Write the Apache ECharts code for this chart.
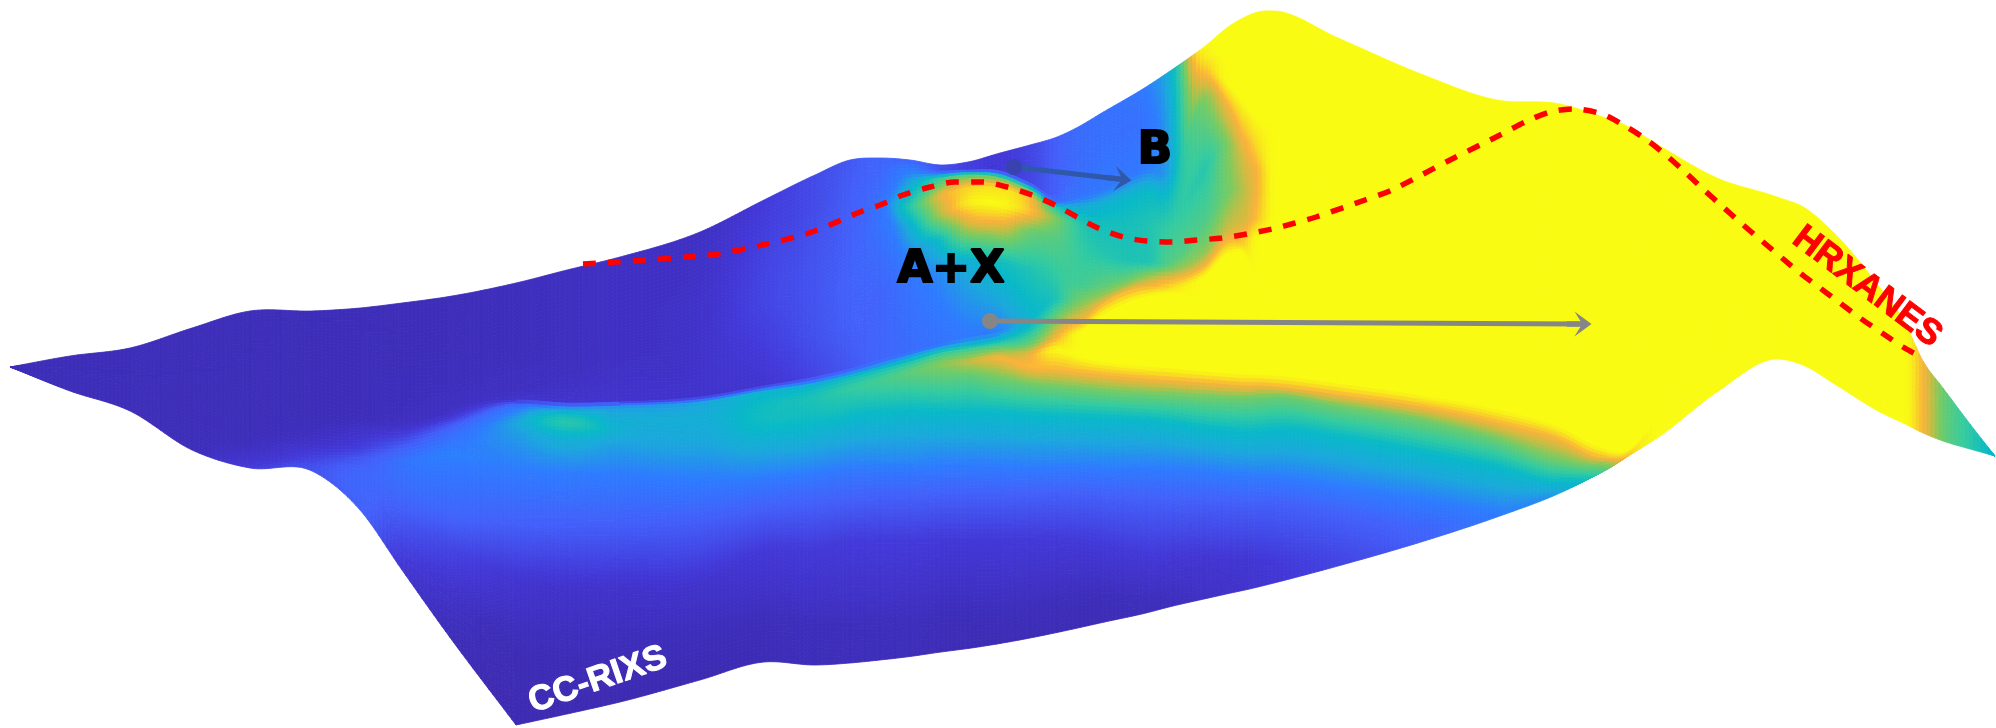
<!DOCTYPE html>
<html><head><meta charset="utf-8">
<style>html,body{margin:0;padding:0;background:#fff}#c{width:1996px;height:728px}</style>
<script src="https://cdn.jsdelivr.net/npm/echarts@6/dist/echarts.min.js"></script></head>
<body><div id="c"></div>
<script>
const colormapStops=[[0,'#3c2aaf'],[.12,'#4338d8'],[.25,'#4360fa'],[.37,'#2e7bff'],[.44,'#1ba8dc'],[.5,'#08b9c8'],[.6,'#34cba0'],[.72,'#78cb62'],[.8,'#c8bd42'],[.87,'#fbb23a'],[.93,'#f9d823'],[1,'#f9fb12']];
const columnX=[10,70,130,192,250,312,360,402,446,516,567,620,700,764,815,850,880,910,941,968,1000,1030,1057,1080,1100,1146,1173,1204,1231,1245,1258,1274,1338,1421,1497,1560,1600,1625,1660,1717,1777,1805,1833,1880,1905,1923,1943,1970,1995];
const surfaceY=[
[367,367,367,367,367,367,367,367,367,367,367,367,367,367,367,367,367,367,367],
[356,359,362,365,367,369,371,373,374,375,376,378,380,382,384,386,388,390,391],
[348,352,356,360,364,368,372,376,378,380,382,386,390,394,398,401,404,408,411],
[328,335,342,349,356,363,370,380,384,388,392,400,408,416,424,430,436,444,450],
[311,320,330,340,350,360,372,395,400,405,410,420,430,440,448,454,460,465,468],
[311,320,332,344,356,370,385,405,412,419,425,435,445,452,458,462,465,468,471],
[308,320,335,350,365,380,395,415,420,425,430,438,446,452,458,470,485,498,510],
[303,318,335,352,368,384,400,420,424,428,432,438,445,452,462,490,520,548,570],
[297,312,330,348,366,382,396,408,415,420,425,430,436,444,455,510,545,590,632],
[283,300,320,340,358,374,388,400,404,407,410,416,423,435,470,520,580,650,725],
[270,290,310,330,350,370,385,403,407,410,412,418,424,438,470,520,590,660,714],
[257,277,297,317,337,357,375,402,406,409,412,420,430,445,475,520,590,660,702],
[232,255,275,295,320,345,370,397,402,406,410,420,432,450,485,515,587,640,680],
[200,215,235,255,280,305,335,386,391,395,399,408,420,440,475,505,550,625,662],
[175,190,210,235,265,300,335,377,383,387,390,398,412,435,470,500,550,625,665],
[160,172,190,215,245,280,320,369,375,378,381,388,398,417,465,497,540,625,663],
[158,170,190,205,227,257,290,360,367,370,373,380,390,413,465,497,540,625,660],
[160,168,185,207,225,250,290,352,358,362,365,372,384,411,465,497,540,622,656.5],
[165,171,178,195,215,240,270,344,350,353,356,364,380,412,466,495,540,620,652],
[162,170,175,187,203,226,262,338,346,349,352,362,376,412,466,495,540,620,648.5],
[153,171,178,188,205,224,262,332,340,346,350,358,380,413,467,495,540,620,643.5],
[145,183,190,198,212,232,270,318,328,345,354,368,385,415,468,494,540,612,638],
[137,195,202,207,218,238,272,300,318,338,350,370,388,416,468,493,540,605,632.5],
[126,168,195,207,225,250,285,303,323,332,358,373,390,417,468,494,542,602,627.5],
[114,150,190,205,225,255,285,297,306,317,362,375,392,418,469,495,545,600,623],
[87,120,170,192,225,263,272,280,287,297,367,379,395,420,469,498,555,600,613],
[69,117,170,190,225,262,272,280,288,294,369,381,396,423,470,500,558,595,606],
[47,60,75,100,170,225,255,267,277,300,372,383,398,428,472,501,560,590,599],
[25,50,88,110,143,190,225,240,253,290,374,385,399,431,475,502,562,585,593],
[17,50,105,140,165,190,220,245,255,290,375,386,399,432,476,503,563,582,590],
[12,50,120,150,170,195,220,235,290,330,375,386,398,432,477,503,563,580,587],
[11,50,120,165,180,195,215,232,290,330,376,387,397,430,478,503,563,578,583],
[38,70,120,165,190,215,240,265,300,340,384,395,407,437,487,515,555,563,566],
[74,100,140,180,210,240,270,300,330,360,396,407,421,452,500,528,538,540,542],
[100,125,160,195,225,255,285,315,345,375,410,423,440,467,510,514,515,516,517],
[104,130,165,200,230,260,290,320,350,385,428,440,462,482,490,491,492,492,493],
[116,140,175,205,235,265,295,325,355,395,448,458,466,473,473,473,473,473,473],
[125,150,180,210,240,270,300,330,360,400,452,455,458,458,458,458,458,458,458],
[146,170,200,230,260,290,320,350,375,400,415,420,424,428,430,432,434,435,436],
[178,195,215,235,255,275,295,315,330,345,355,362,368,374,379,383,386,389,392],
[197,212,226,240,254,268,282,295,305,315,322,328,334,340,345,349,353,356,359],
[208,220,232,245,258,270,282,294,304,314,322,328,334,340,345,350,355,360,366],
[232,244,256,268,280,292,304,316,326,336,344,350,356,362,367,372,376,380,383],
[288,298,308,318,328,338,348,358,366,374,380,385,390,395,399,403,406,409,412],
[323,331,339,347,355,363,370,377,383,389,394,398,402,406,410,414,417,421,424],
[361,366,371,376,381,386,391,396,400,404,408,412,415,418,421,424,427,430,433],
[388,392,396,400,404,408,412,415,418,421,424,427,429,431,433,435,437,439,441],
[424,426,428,430,432,433,434,435,436,437,438,440,441,442,444,445,446,447,449],
[456,456,456,456,456,456,456,456,456,456,456,456,456,456,456,456,456,456,456]];
const surfaceC=[
[.03,.03,.03,.03,.03,.03,.03,.03,.03,.03,.03,.03,.03,.03,.03,.03,.03,.03,.03],
[.03,.03,.03,.03,.03,.03,.03,.03,.03,.03,.03,.03,.03,.03,.03,.03,.03,.03,.03],
[.03,.03,.03,.03,.03,.03,.03,.03,.03,.03,.03,.03,.03,.03,.03,.03,.03,.03,.03],
[.03,.03,.03,.03,.03,.03,.03,.03,.03,.03,.03,.03,.03,.03,.03,.03,.03,.03,.04],
[.03,.03,.03,.03,.03,.03,.03,.03,.03,.03,.03,.03,.03,.04,.05,.07,.09,.11,.13],
[.03,.03,.03,.03,.03,.03,.03,.03,.03,.03,.04,.05,.08,.12,.15,.17,.19,.2,.21],
[.03,.03,.03,.03,.03,.03,.03,.03,.04,.05,.07,.1,.13,.17,.22,.27,.28,.27,.25],
[.03,.03,.03,.03,.03,.04,.04,.05,.06,.08,.11,.16,.22,.28,.33,.3,.22,.15,.1],
[.03,.03,.03,.03,.04,.04,.05,.05,.07,.12,.2,.26,.3,.34,.38,.28,.17,.08,.03],
[.04,.04,.04,.04,.04,.05,.05,.08,.25,.33,.37,.41,.44,.42,.37,.26,.1,.02,.01],
[.05,.05,.05,.05,.05,.05,.06,.09,.38,.44,.47,.55,.57,.47,.38,.26,.08,.02,.01],
[.06,.06,.06,.06,.06,.06,.07,.09,.4,.42,.44,.46,.47,.43,.37,.26,.08,.02,.01],
[.06,.07,.07,.08,.08,.08,.08,.09,.43,.44,.45,.46,.45,.43,.36,.26,.08,.03,.01],
[.12,.13,.14,.15,.16,.16,.14,.1,.47,.49,.5,.52,.52,.47,.38,.26,.12,.03,.02],
[.18,.18,.18,.2,.21,.21,.2,.16,.44,.49,.52,.55,.53,.47,.38,.26,.12,.04,.03],
[.22,.23,.24,.25,.25,.26,.25,.22,.45,.52,.55,.6,.57,.5,.38,.26,.13,.04,.03],
[.27,.28,.3,.33,.33,.3,.27,.27,.45,.53,.57,.63,.6,.5,.38,.25,.13,.04,.03],
[.26,.35,.45,.58,.47,.4,.33,.3,.46,.55,.6,.68,.63,.5,.38,.25,.13,.04,.03],
[.2,.2,.6,.85,.78,.52,.4,.33,.48,.58,.64,.74,.66,.5,.37,.25,.12,.03,.02],
[.14,.14,.65,.92,.97,.8,.46,.36,.5,.6,.66,.8,.68,.5,.37,.25,.12,.03,.02],
[.12,.12,.68,.95,1,.85,.52,.38,.5,.64,.72,.87,.7,.5,.37,.25,.12,.03,.02],
[.16,.16,.65,.88,.9,.7,.55,.48,.52,.7,.85,.88,.7,.5,.37,.25,.12,.03,.02],
[.25,.25,.32,.55,.72,.66,.6,.55,.7,.87,1,.87,.7,.5,.37,.25,.12,.03,.02],
[.3,.3,.33,.45,.58,.6,.62,.72,.87,1,1,.87,.7,.5,.37,.25,.12,.03,.02],
[.32,.32,.35,.47,.53,.57,.66,.75,.87,1,1,.87,.7,.5,.37,.25,.12,.03,.02],
[.37,.34,.37,.5,.55,.55,.68,.78,.87,1,1,.87,.7,.5,.37,.25,.12,.04,.03],
[.5,.47,.46,.52,.6,.66,.76,.87,.95,1,1,.87,.7,.5,.37,.25,.11,.05,.04],
[1,.95,.87,.72,.57,.65,.75,.87,1,1,1,.87,.7,.5,.37,.25,.1,.07,.06],
[1,1,1,.87,.75,.72,.8,.87,1,1,1,.87,.7,.5,.37,.25,.1,.08,.08],
[1,1,1,.87,.82,.79,.82,.93,1,1,1,.87,.7,.5,.37,.25,.1,.09,.09],
[1,1,1,.93,.87,.87,.9,1,1,1,1,.87,.7,.5,.37,.25,.11,.1,.1],
[1,1,1,1,1,1,1,1,1,1,1,.87,.7,.5,.37,.25,.12,.11,.11],
[1,1,1,1,1,1,1,1,1,1,1,.87,.7,.5,.37,.25,.17,.16,.16],
[1,1,1,1,1,1,1,1,1,1,1,.87,.7,.5,.37,.27,.26,.25,.25],
[1,1,1,1,1,1,1,1,1,1,1,.87,.7,.5,.38,.37,.37,.37,.37],
[1,1,1,1,1,1,1,1,1,1,1,.87,.7,.5,.45,.44,.44,.44,.44],
[1,1,1,1,1,1,1,1,1,1,1,.87,.7,.62,.62,.62,.62,.62,.62],
[1,1,1,1,1,1,1,1,1,1,1,.93,.88,.88,.88,.88,.88,.88,.88],
[1,1,1,1,1,1,1,1,1,1,1,1,1,1,1,1,1,1,1],
[1,1,1,1,1,1,1,1,1,1,1,1,1,1,1,1,1,1,1],
[1,1,1,1,1,1,1,1,1,1,1,1,1,1,1,1,1,1,1],
[1,1,1,1,1,1,1,1,1,1,1,1,1,1,1,1,1,1,1],
[1,1,1,1,1,1,1,1,1,1,1,1,1,1,1,1,1,1,1],
[1,1,1,1,1,1,1,1,1,1,1,1,1,1,1,1,1,1,1],
[1,1,1,1,1,1,1,1,1,1,1,1,1,1,1,1,1,1,1],
[.87,.87,.87,.87,.87,.87,.87,.87,.87,.87,.87,.87,.87,.87,.87,.87,.87,.87,.87],
[.7,.7,.7,.7,.7,.7,.7,.7,.7,.7,.7,.7,.7,.7,.7,.7,.7,.7,.7],
[.58,.58,.58,.58,.58,.58,.58,.58,.58,.58,.58,.58,.58,.58,.58,.58,.58,.58,.58],
[.48,.48,.48,.48,.48,.48,.48,.48,.48,.48,.48,.48,.48,.48,.48,.48,.48,.48,.48]];
const cornerColumn=9;
const hrxanesPath=[[583,264],[709,255],[762,245],[812,232],[860,212],[880,205],[903,195],[930,187],[955,182],[982,182],[1007,187],[1032,195],[1055,205],[1077,217],[1098,228],[1123,237],[1147,241],[1172,242],[1197,240],[1222,238],[1247,234],[1272,229],[1295,223],[1316,217],[1365,200],[1392,190],[1450,160],[1500,135],[1525,122],[1550,112],[1575,109],[1602,114],[1625,126],[1647,140],[1667,156],[1685,172],[1703,189],[1723,207],[1742,224],[1762,241],[1782,258],[1800,273],[1820,288],[1840,303],[1860,318],[1882,333],[1903,347],[1921,357]];
const arrowAX=[[990,321],[1579,324]];
const arrowB=[[1014,167],[1119,179]];
const arrowHead='path://M12.5 0 L25 17 L15.2 11 L15.2 25 L9.8 25 L9.8 11 L0 17 Z';
const annotations=[
 {x:951,y:270,text:'A+X',size:45,rotate:0,color:'#000',border:2.2,font:'DejaVu Sans'},
 {x:1155,y:151,text:'B',size:45,rotate:0,color:'#000',border:2.2,font:'DejaVu Sans'},
 {x:598,y:680,text:'CC-RIXS',size:35,rotate:19,color:'#fff',border:1,font:'Liberation Sans'},
 {x:1867,y:287,text:'HRXANES',size:36,rotate:-37,color:'#f00',border:1,font:'Liberation Sans'}];

const stopsRgb=colormapStops.map(s=>[s[0],parseInt(s[1].slice(1,3),16),parseInt(s[1].slice(3,5),16),parseInt(s[1].slice(5,7),16)]);
function colorOf(c){
  c=Math.max(0,Math.min(1,c));
  for(let k=1;k<stopsRgb.length;k++){
    if(c<=stopsRgb[k][0]){
      const a=stopsRgb[k-1],b=stopsRgb[k],t=(c-a[0])/(b[0]-a[0]);
      return 'rgb('+Math.round(a[1]+(b[1]-a[1])*t)+','+Math.round(a[2]+(b[2]-a[2])*t)+','+Math.round(a[3]+(b[3]-a[3])*t)+')';
    }
  }
  return colormapStops[colormapStops.length-1][1];
}
const nCols=columnX.length,nRows=surfaceY[0].length;
function slope(get,k,side,monotone,sharp){
  const h0=k>0?columnX[k]-columnX[k-1]:0,h1=k<nCols-1?columnX[k+1]-columnX[k]:0;
  const s0=k>0?(get(k)-get(k-1))/h0:null,s1=k<nCols-1?(get(k+1)-get(k))/h1:null;
  if(s0===null)return s1; if(s1===null)return s0;
  if(sharp)return side<0?s0:s1;
  if(monotone&&s0*s1<=0)return 0;
  return (s0*h1+s1*h0)/(h0+h1);
}
function hermite(get,i,t,monotone,sharpRow){
  const h=columnX[i+1]-columnX[i],a=get(i),b=get(i+1);
  const m0=slope(get,i,1,monotone,sharpRow&&i===cornerColumn)*h,m1=slope(get,i+1,-1,monotone,sharpRow&&i+1===cornerColumn)*h;
  const t2=t*t,t3=t2*t;
  return (2*t3-3*t2+1)*a+(t3-2*t2+t)*m0+(3*t2-2*t3)*b+(t3-t2)*m1;
}
function renderItem(params,api){
  const i=api.value(2),j=api.value(3);
  const dx=columnX[i+1]-columnX[i];
  const maxDy=Math.max(surfaceY[i][j+1]-surfaceY[i][j],surfaceY[i+1][j+1]-surfaceY[i+1][j],0);
  const nu=Math.max(1,Math.ceil(dx/4));
  const nv=Math.max(1,Math.ceil(maxDy/4));
  const xs=[],y0=[],y1=[],c0=[],c1=[];
  for(let a=0;a<=nu;a++){
    const t=a/nu;
    xs.push(columnX[i]+dx*t);
    y0.push(hermite(k=>surfaceY[k][j],i,t,false,j>=15));
    y1.push(hermite(k=>surfaceY[k][j+1],i,t,false,j+1>=15));
    c0.push(hermite(k=>surfaceC[k][j],i,t,true,false));
    c1.push(hermite(k=>surfaceC[k][j+1],i,t,true,false));
  }
  const children=[];
  const flat=c0.every(v=>v>=.999)&&c1.every(v=>v>=.999);
  const poly=(pts,fill)=>children.push({type:'polygon',silent:true,shape:{points:pts.map(p=>api.coord(p))},style:{fill:fill,stroke:fill,lineWidth:.8}});
  if(flat){
    const pts=[];
    for(let a=0;a<=nu;a++)pts.push([xs[a],y0[a]]);
    for(let a=nu;a>=0;a--)pts.push([xs[a],y1[a]]);
    poly(pts,colorOf(1));
  }else{
    for(let a=0;a<nu;a++){
      for(let b=0;b<nv;b++){
        const s0=b/nv,s1=(b+1)/nv;
        const lerp=(p,q,s)=>p+(q-p)*s;
        const cm=(lerp(c0[a],c1[a],(s0+s1)/2)+lerp(c0[a+1],c1[a+1],(s0+s1)/2))/2;
        poly([[xs[a],lerp(y0[a],y1[a],s0)],[xs[a+1],lerp(y0[a+1],y1[a+1],s0)],[xs[a+1],lerp(y0[a+1],y1[a+1],s1)],[xs[a],lerp(y0[a],y1[a],s1)]],colorOf(cm));
      }
    }
  }
  return {type:'group',children:children};
}
const cells=[];
for(let i=0;i<nCols-1;i++)for(let j=0;j<nRows-1;j++)cells.push([columnX[i],surfaceY[i][j],i,j]);

const chart=echarts.init(document.getElementById('c'),null,{renderer:'canvas'});
chart.setOption({
  animation:false,backgroundColor:'#fff',
  grid:{left:0,right:0,top:0,bottom:0},
  xAxis:{type:'value',min:0,max:1996,show:false},
  yAxis:{type:'value',min:0,max:728,inverse:true,show:false},
  series:[
   {type:'custom',name:'surface',coordinateSystem:'cartesian2d',data:cells,renderItem:renderItem,encode:{x:0,y:1},clip:false,silent:true,z:1},
   {type:'line',name:'HRXANES path',data:hrxanesPath,smooth:.3,showSymbol:false,silent:true,z:3,lineStyle:{color:'#f00',width:5.5,type:[13,12],cap:'butt'}},
   {type:'lines',name:'A+X arrow',coordinateSystem:'cartesian2d',z:4,silent:true,symbol:['circle',arrowHead],symbolSize:[16,25],data:[{coords:arrowAX}],lineStyle:{color:'#868686',width:5,opacity:1,curveness:0}},
   {type:'lines',name:'B arrow',coordinateSystem:'cartesian2d',z:4,silent:true,symbol:['circle',arrowHead],symbolSize:[16,25],data:[{coords:arrowB}],lineStyle:{color:'#2f58aa',width:5,opacity:1,curveness:0}},
   {type:'scatter',name:'B dot',z:5,silent:true,symbolSize:16,itemStyle:{color:'#3a42b2',opacity:1},data:[arrowB[0]]},
   {type:'scatter',name:'annotations',z:6,silent:true,symbolSize:0,itemStyle:{opacity:1},
    data:annotations.map(a=>({value:[a.x,a.y],label:{show:true,position:'inside',formatter:a.text,rotate:a.rotate,opacity:1,fontSize:a.size,fontWeight:'bold',fontFamily:a.font,color:a.color,textBorderColor:a.color,textBorderWidth:a.border}}))}
  ]
});
</script></body></html>
